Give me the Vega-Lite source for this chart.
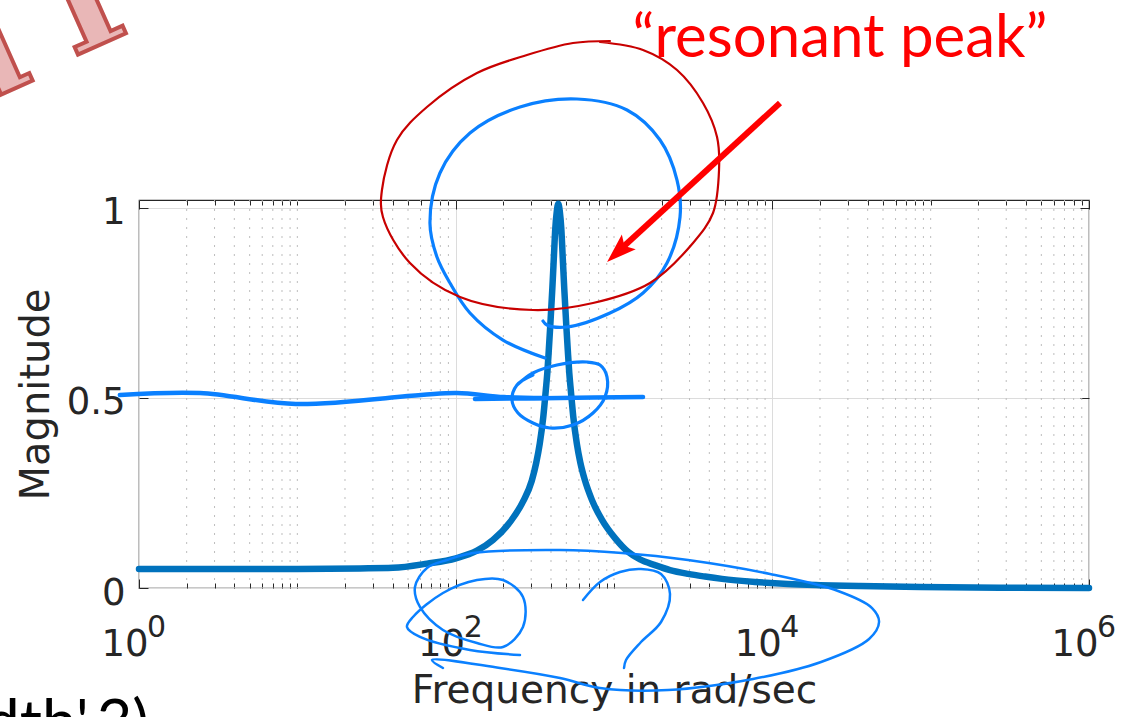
{
  "$schema": "https://vega.github.io/schema/vega-lite/v6.json",
  "width": 950,
  "height": 388,
  "autosize": {"type": "none"},
  "padding": {"left": 139, "top": 200, "right": 44, "bottom": 129},
  "background": "white",
  "config": {"view": {"stroke": "#262626", "strokeWidth": 1.2}},
  "datasets": {
    "response": [
      {"freq": 1, "mag": 0.05}, {"freq": 3, "mag": 0.05}, {"freq": 10, "mag": 0.0502},
      {"freq": 24.86, "mag": 0.0515}, {"freq": 40.17, "mag": 0.053}, {"freq": 65.87, "mag": 0.064},
      {"freq": 100.4, "mag": 0.078}, {"freq": 136.3, "mag": 0.098}, {"freq": 172.0, "mag": 0.126},
      {"freq": 220.3, "mag": 0.173}, {"freq": 266.1, "mag": 0.227}, {"freq": 302.5, "mag": 0.282},
      {"freq": 323.0, "mag": 0.33}, {"freq": 339.8, "mag": 0.38}, {"freq": 357.6, "mag": 0.45},
      {"freq": 370.9, "mag": 0.52}, {"freq": 379.1, "mag": 0.565}, {"freq": 387.4, "mag": 0.625},
      {"freq": 395.9, "mag": 0.69}, {"freq": 407.6, "mag": 0.785}, {"freq": 416.6, "mag": 0.865},
      {"freq": 425.8, "mag": 0.945}, {"freq": 435.2, "mag": 0.99}, {"freq": 444.8, "mag": 1.01},
      {"freq": 454.6, "mag": 0.99}, {"freq": 464.6, "mag": 0.945}, {"freq": 474.9, "mag": 0.865},
      {"freq": 485.4, "mag": 0.785}, {"freq": 499.7, "mag": 0.69}, {"freq": 510.7, "mag": 0.625},
      {"freq": 521.9, "mag": 0.565}, {"freq": 533.5, "mag": 0.52}, {"freq": 553.2, "mag": 0.45},
      {"freq": 582.2, "mag": 0.38}, {"freq": 612.6, "mag": 0.33}, {"freq": 654.1, "mag": 0.284},
      {"freq": 726.1, "mag": 0.231}, {"freq": 840.0, "mag": 0.179}, {"freq": 1015, "mag": 0.131},
      {"freq": 1226, "mag": 0.095}, {"freq": 1460, "mag": 0.075}, {"freq": 1816, "mag": 0.06},
      {"freq": 2258, "mag": 0.047}, {"freq": 2934, "mag": 0.037}, {"freq": 3757, "mag": 0.03},
      {"freq": 4812, "mag": 0.024}, {"freq": 7775, "mag": 0.016}, {"freq": 12560, "mag": 0.0105},
      {"freq": 20010, "mag": 0.0075}, {"freq": 35810, "mag": 0.005}, {"freq": 85700, "mag": 0.0025},
      {"freq": 274400, "mag": 0.0009}, {"freq": 1000000, "mag": 0.0003}
    ],
    "minorTicks": [
      {"freq": 2}, {"freq": 3}, {"freq": 4}, {"freq": 5}, {"freq": 6}, {"freq": 7}, {"freq": 8}, {"freq": 9},
      {"freq": 10}, {"freq": 20}, {"freq": 30}, {"freq": 40}, {"freq": 50}, {"freq": 60}, {"freq": 70}, {"freq": 80}, {"freq": 90},
      {"freq": 200}, {"freq": 300}, {"freq": 400}, {"freq": 500}, {"freq": 600}, {"freq": 700}, {"freq": 800}, {"freq": 900},
      {"freq": 1000}, {"freq": 2000}, {"freq": 3000}, {"freq": 4000}, {"freq": 5000}, {"freq": 6000}, {"freq": 7000}, {"freq": 8000}, {"freq": 9000},
      {"freq": 20000}, {"freq": 30000}, {"freq": 40000}, {"freq": 50000}, {"freq": 60000}, {"freq": 70000}, {"freq": 80000}, {"freq": 90000},
      {"freq": 100000}, {"freq": 200000}, {"freq": 300000}, {"freq": 400000}, {"freq": 500000}, {"freq": 600000}, {"freq": 700000}, {"freq": 800000}, {"freq": 900000}
    ],
    "decades": [
      {"freq": 1, "power": "0"}, {"freq": 100, "power": "2"}, {"freq": 10000, "power": "4"}, {"freq": 1000000, "power": "6"}
    ],
    "blueInk": [
      {"stroke": "peak-loop", "seq": 1, "freq": 366.6, "mag": 0.6046},
      {"stroke": "peak-loop", "seq": 2, "freq": 199.0, "mag": 0.6519},
      {"stroke": "peak-loop", "seq": 3, "freq": 123.1, "mag": 0.7229},
      {"stroke": "peak-loop", "seq": 4, "freq": 92.04, "mag": 0.8018},
      {"stroke": "peak-loop", "seq": 5, "freq": 76.18, "mag": 0.8701},
      {"stroke": "peak-loop", "seq": 6, "freq": 68.8, "mag": 0.9595},
      {"stroke": "peak-loop", "seq": 7, "freq": 79.57, "mag": 1.091},
      {"stroke": "peak-loop", "seq": 8, "freq": 123.1, "mag": 1.1961},
      {"stroke": "peak-loop", "seq": 9, "freq": 254.8, "mag": 1.2645},
      {"stroke": "peak-loop", "seq": 10, "freq": 583.8, "mag": 1.2855},
      {"stroke": "peak-loop", "seq": 11, "freq": 1208, "mag": 1.2566},
      {"stroke": "peak-loop", "seq": 12, "freq": 1953, "mag": 1.1777},
      {"stroke": "peak-loop", "seq": 13, "freq": 2500, "mag": 1.0725},
      {"stroke": "peak-loop", "seq": 14, "freq": 2612, "mag": 0.9753},
      {"stroke": "peak-loop", "seq": 15, "freq": 2161, "mag": 0.8544},
      {"stroke": "peak-loop", "seq": 16, "freq": 1525, "mag": 0.7755},
      {"stroke": "peak-loop", "seq": 17, "freq": 943.4, "mag": 0.7229},
      {"stroke": "peak-loop", "seq": 18, "freq": 504.8, "mag": 0.6861},
      {"stroke": "peak-loop", "seq": 19, "freq": 377.1, "mag": 0.6914},
      {"stroke": "peak-loop", "seq": 20, "freq": 356.0, "mag": 0.7019},
      {"stroke": "half-ring", "seq": 1, "freq": 243.9, "mag": 0.5336},
      {"stroke": "half-ring", "seq": 2, "freq": 307.8, "mag": 0.5652},
      {"stroke": "half-ring", "seq": 3, "freq": 436.4, "mag": 0.5862},
      {"stroke": "half-ring", "seq": 4, "freq": 675.1, "mag": 0.5941},
      {"stroke": "half-ring", "seq": 5, "freq": 815.9, "mag": 0.5862},
      {"stroke": "half-ring", "seq": 6, "freq": 903.3, "mag": 0.5547},
      {"stroke": "half-ring", "seq": 7, "freq": 877.3, "mag": 0.5021},
      {"stroke": "half-ring", "seq": 8, "freq": 736.8, "mag": 0.46},
      {"stroke": "half-ring", "seq": 9, "freq": 550.8, "mag": 0.4285},
      {"stroke": "half-ring", "seq": 10, "freq": 394.2, "mag": 0.4206},
      {"stroke": "half-ring", "seq": 11, "freq": 307.8, "mag": 0.4338},
      {"stroke": "half-ring", "seq": 12, "freq": 247.5, "mag": 0.46},
      {"stroke": "half-ring", "seq": 13, "freq": 226.8, "mag": 0.4942},
      {"stroke": "half-ring", "seq": 14, "freq": 243.9, "mag": 0.5336},
      {"stroke": "half-ring", "seq": 15, "freq": 307.8, "mag": 0.5599},
      {"stroke": "half-line", "seq": 1, "freq": 0.7574, "mag": 0.5074},
      {"stroke": "half-line", "seq": 2, "freq": 2.425, "mag": 0.5126},
      {"stroke": "half-line", "seq": 3, "freq": 9.799, "mag": 0.4837},
      {"stroke": "half-line", "seq": 4, "freq": 60.37, "mag": 0.5074},
      {"stroke": "half-line", "seq": 5, "freq": 101.9, "mag": 0.5126},
      {"stroke": "half-line", "seq": 6, "freq": 201.9, "mag": 0.5021},
      {"stroke": "half-line", "seq": 7, "freq": 366.6, "mag": 0.4995},
      {"stroke": "half-line-2", "seq": 1, "freq": 132.4, "mag": 0.4968},
      {"stroke": "half-line-2", "seq": 2, "freq": 456.0, "mag": 0.4995},
      {"stroke": "half-line-2", "seq": 3, "freq": 1525, "mag": 0.5021},
      {"stroke": "base-loop", "seq": 1, "freq": 83.13, "mag": -0.2103},
      {"stroke": "base-loop", "seq": 2, "freq": 70.84, "mag": -0.1893},
      {"stroke": "base-loop", "seq": 3, "freq": 190.5, "mag": -0.2103},
      {"stroke": "base-loop", "seq": 4, "freq": 456.0, "mag": -0.2366},
      {"stroke": "base-loop", "seq": 5, "freq": 815.9, "mag": -0.2629},
      {"stroke": "base-loop", "seq": 6, "freq": 2193, "mag": -0.2681},
      {"stroke": "base-loop", "seq": 7, "freq": 7552, "mag": -0.2392},
      {"stroke": "base-loop", "seq": 8, "freq": 20310, "mag": -0.1945},
      {"stroke": "base-loop", "seq": 9, "freq": 40830, "mag": -0.1341},
      {"stroke": "base-loop", "seq": 10, "freq": 47210, "mag": -0.0894},
      {"stroke": "base-loop", "seq": 11, "freq": 42640, "mag": -0.0526},
      {"stroke": "base-loop", "seq": 12, "freq": 26010, "mag": -0.0079},
      {"stroke": "base-loop", "seq": 13, "freq": 9672, "mag": 0.0368},
      {"stroke": "base-loop", "seq": 14, "freq": 2934, "mag": 0.0736},
      {"stroke": "base-loop", "seq": 15, "freq": 1123, "mag": 0.092},
      {"stroke": "base-loop", "seq": 16, "freq": 456.0, "mag": 0.0999},
      {"stroke": "base-loop", "seq": 17, "freq": 128.6, "mag": 0.092},
      {"stroke": "base-loop", "seq": 18, "freq": 88.11, "mag": 0.0736},
      {"stroke": "base-loop", "seq": 19, "freq": 65.87, "mag": 0.0526},
      {"stroke": "base-loop", "seq": 20, "freq": 55.33, "mag": 0.0026},
      {"stroke": "base-loop", "seq": 21, "freq": 59.5, "mag": -0.0499},
      {"stroke": "base-loop", "seq": 22, "freq": 83.13, "mag": -0.1104},
      {"stroke": "base-loop", "seq": 23, "freq": 136.3, "mag": -0.1446},
      {"stroke": "base-loop", "seq": 24, "freq": 199.0, "mag": -0.1551},
      {"stroke": "base-loop", "seq": 25, "freq": 266.1, "mag": -0.1025},
      {"stroke": "base-loop", "seq": 26, "freq": 266.1, "mag": -0.0237},
      {"stroke": "base-loop", "seq": 27, "freq": 199.0, "mag": 0.021},
      {"stroke": "base-loop", "seq": 28, "freq": 136.3, "mag": 0.021},
      {"stroke": "base-loop", "seq": 29, "freq": 83.13, "mag": -0.0131},
      {"stroke": "base-loop", "seq": 30, "freq": 53.74, "mag": -0.0762},
      {"stroke": "base-loop", "seq": 31, "freq": 49.25, "mag": -0.1025},
      {"stroke": "base-loop", "seq": 32, "freq": 59.5, "mag": -0.1288},
      {"stroke": "base-loop", "seq": 33, "freq": 123.1, "mag": -0.163},
      {"stroke": "base-loop", "seq": 34, "freq": 254.8, "mag": -0.1761},
      {"stroke": "hook", "seq": 1, "freq": 637.1, "mag": -0.0315},
      {"stroke": "hook", "seq": 2, "freq": 815.9, "mag": 0.0158},
      {"stroke": "hook", "seq": 3, "freq": 1091, "mag": 0.0421},
      {"stroke": "hook", "seq": 4, "freq": 1481, "mag": 0.0499},
      {"stroke": "hook", "seq": 5, "freq": 1982, "mag": 0.0368},
      {"stroke": "hook", "seq": 6, "freq": 2258, "mag": -0.0158},
      {"stroke": "hook", "seq": 7, "freq": 1982, "mag": -0.0894},
      {"stroke": "hook", "seq": 8, "freq": 1481, "mag": -0.142},
      {"stroke": "hook", "seq": 9, "freq": 1191, "mag": -0.1893},
      {"stroke": "hook", "seq": 10, "freq": 1157, "mag": -0.2103}
    ],
    "redRing": [
      {"seq": 1, "freq": 815.9, "mag": 1.4353},
      {"seq": 2, "freq": 1525, "mag": 1.4143},
      {"seq": 3, "freq": 2500, "mag": 1.3617},
      {"seq": 4, "freq": 3650, "mag": 1.275},
      {"seq": 5, "freq": 4475, "mag": 1.1856},
      {"seq": 6, "freq": 4606, "mag": 1.0988},
      {"seq": 7, "freq": 4220, "mag": 0.9858},
      {"seq": 8, "freq": 3156, "mag": 0.9069},
      {"seq": 9, "freq": 1688, "mag": 0.8018},
      {"seq": 10, "freq": 736.8, "mag": 0.7492},
      {"seq": 11, "freq": 307.8, "mag": 0.7308},
      {"seq": 12, "freq": 106.5, "mag": 0.765},
      {"seq": 13, "freq": 51.44, "mag": 0.8544},
      {"seq": 14, "freq": 34.73, "mag": 0.9753},
      {"seq": 15, "freq": 34.23, "mag": 1.0463},
      {"seq": 16, "freq": 42.58, "mag": 1.1777},
      {"seq": 17, "freq": 65.87, "mag": 1.2645},
      {"seq": 18, "freq": 136.3, "mag": 1.3538},
      {"seq": 19, "freq": 282.0, "mag": 1.4012},
      {"seq": 20, "freq": 550.8, "mag": 1.4327},
      {"seq": 21, "freq": 943.4, "mag": 1.438}
    ],
    "arrowShaft": [
      {"seq": 1, "freq": 11180, "mag": 1.275},
      {"seq": 2, "freq": 1123, "mag": 0.8938}
    ],
    "arrowHead": [{"freq": 1083, "mag": 0.8872}],
    "callout": [{"freq": 26770, "mag": 1.3959, "label": "“resonant peak”"}],
    "stamp": [
      {"freq": 0.5828, "mag": 1.4301, "glyph": "I"},
      {"freq": 0.116, "mag": 1.2855, "glyph": "d"}
    ],
    "codeLine": [{"freq": 1.155, "mag": -0.4101, "label": "Width',3)"}]
  },
  "layer": [
    {
      "data": {"name": "minorTicks"},
      "mark": {"type": "rule", "color": "#bdbdbd", "strokeWidth": 1, "strokeDash": [2, 7]},
      "encoding": {
        "x": {
          "field": "freq", "type": "quantitative",
          "scale": {"type": "log", "domain": [1, 1000000]},
          "axis": {
            "orient": "bottom",
            "values": [2,3,4,5,6,7,8,9,10,20,30,40,50,60,70,80,90,200,300,400,500,600,700,800,900,1000,2000,3000,4000,5000,6000,7000,8000,9000,20000,30000,40000,50000,60000,70000,80000,90000,100000,200000,300000,400000,500000,600000,700000,800000,900000],
            "labels": false, "ticks": true, "tickSize": -5, "tickColor": "#262626", "tickWidth": 1,
            "domain": false, "grid": false, "title": null
          }
        }
      }
    },
    {
      "data": {"name": "response"},
      "mark": {"type": "line", "color": "#0072BD", "strokeWidth": 6.5, "interpolate": "monotone", "strokeCap": "round", "strokeJoin": "round"},
      "encoding": {
        "x": {
          "field": "freq", "type": "quantitative",
          "scale": {"type": "log", "domain": [1, 1000000]},
          "axis": {
            "orient": "bottom", "values": [1, 100, 10000, 1000000],
            "labelExpr": "'10'", "labelFont": "DejaVu Sans", "labelFontSize": 37, "labelColor": "#262626",
            "labelAlign": "right", "labelBaseline": "alphabetic", "labelOffset": 9, "labelPadding": 76,
            "labelFlush": false, "labelOverlap": false,
            "tickSize": -9, "tickColor": "#262626", "tickWidth": 1, "domain": false,
            "grid": true, "gridColor": "#dcdcdc", "gridWidth": 1,
            "title": "Frequency in rad/sec", "titleFont": "DejaVu Sans", "titleFontSize": 39,
            "titleFontWeight": "normal", "titleColor": "#262626", "titleY": 114, "titleBaseline": "alphabetic"
          }
        },
        "y": {
          "field": "mag", "type": "quantitative",
          "scale": {"domain": [0, 1.02]},
          "axis": {
            "orient": "left", "values": [0, 0.5, 1], "format": "~g",
            "labelFont": "DejaVu Sans", "labelFontSize": 37, "labelColor": "#262626",
            "labelAlign": "right", "labelBaseline": "alphabetic", "labelOffset": 16, "labelPadding": 23,
            "labelFlush": false, "labelOverlap": false,
            "tickSize": -9, "tickColor": "#262626", "tickWidth": 1, "domain": false,
            "grid": true, "gridColor": "#dcdcdc", "gridWidth": 1,
            "title": "Magnitude", "titleFont": "DejaVu Sans", "titleFontSize": 40, "titleFontWeight": "normal",
            "titleColor": "#262626", "titleX": -91, "titleY": 194, "titleAngle": -90,
            "titleBaseline": "alphabetic", "titleAlign": "center"
          }
        }
      }
    },
    {
      "data": {"name": "decades"},
      "mark": {"type": "text", "font": "DejaVu Sans", "fontSize": 30, "color": "#262626", "align": "left", "baseline": "alphabetic", "dx": 8, "dy": 49},
      "encoding": {
        "x": {"field": "freq", "type": "quantitative", "scale": {"type": "log", "domain": [1, 1000000]}, "axis": null},
        "y": {"datum": 0, "type": "quantitative", "scale": {"domain": [0, 1.02]}, "axis": null},
        "text": {"field": "power"}
      }
    },
    {
      "data": {"name": "blueInk"},
      "transform": [{"filter": {"field": "stroke", "oneOf": ["base-loop", "hook"]}}],
      "mark": {"type": "line", "color": "#0a80ff", "strokeWidth": 2.5, "interpolate": "catmull-rom", "strokeCap": "round", "strokeJoin": "round", "clip": false},
      "encoding": {
        "x": {
          "field": "freq", "type": "quantitative", "scale": {"type": "log", "domain": [1, 1000000]},
          "axis": {
            "orient": "top",
            "values": [2,3,4,5,6,7,8,9,10,20,30,40,50,60,70,80,90,200,300,400,500,600,700,800,900,1000,2000,3000,4000,5000,6000,7000,8000,9000,20000,30000,40000,50000,60000,70000,80000,90000,100000,200000,300000,400000,500000,600000,700000,800000,900000],
            "labels": false, "tickSize": -5, "tickColor": "#262626", "tickWidth": 1, "domain": false, "grid": false, "title": null
          }
        },
        "y": {
          "field": "mag", "type": "quantitative", "scale": {"domain": [0, 1.02]},
          "axis": {"orient": "right", "values": [0, 0.5, 1], "labels": false, "tickSize": -9, "tickColor": "#262626", "tickWidth": 1, "domain": false, "grid": false, "title": null}
        },
        "detail": {"field": "stroke"},
        "order": {"field": "seq", "type": "quantitative"}
      }
    },
    {
      "data": {"name": "blueInk"},
      "transform": [{"filter": {"field": "stroke", "oneOf": ["peak-loop", "half-ring"]}}],
      "mark": {"type": "line", "color": "#0a80ff", "strokeWidth": 3.2, "interpolate": "catmull-rom", "strokeCap": "round", "strokeJoin": "round", "clip": false},
      "encoding": {
        "x": {"field": "freq", "type": "quantitative", "scale": {"type": "log", "domain": [1, 1000000]}, "axis": null},
        "y": {"field": "mag", "type": "quantitative", "scale": {"domain": [0, 1.02]}, "axis": null},
        "detail": {"field": "stroke"},
        "order": {"field": "seq", "type": "quantitative"}
      }
    },
    {
      "data": {"name": "blueInk"},
      "transform": [{"filter": {"field": "stroke", "oneOf": ["half-line", "half-line-2"]}}],
      "mark": {"type": "line", "color": "#0a80ff", "strokeWidth": 4.5, "interpolate": "catmull-rom", "strokeCap": "round", "strokeJoin": "round", "clip": false},
      "encoding": {
        "x": {"field": "freq", "type": "quantitative", "scale": {"type": "log", "domain": [1, 1000000]}, "axis": null},
        "y": {"field": "mag", "type": "quantitative", "scale": {"domain": [0, 1.02]}, "axis": null},
        "detail": {"field": "stroke"},
        "order": {"field": "seq", "type": "quantitative"}
      }
    },
    {
      "data": {"name": "redRing"},
      "mark": {"type": "line", "color": "#c80000", "strokeWidth": 2.2, "interpolate": "catmull-rom", "strokeCap": "round", "strokeJoin": "round", "clip": false},
      "encoding": {
        "x": {
          "field": "freq", "type": "quantitative", "scale": {"type": "log", "domain": [1, 1000000]},
          "axis": {"orient": "top", "values": [1, 100, 10000, 1000000], "labels": false, "tickSize": -9, "tickColor": "#262626", "tickWidth": 1, "domain": false, "grid": false, "title": null}
        },
        "y": {"field": "mag", "type": "quantitative", "scale": {"domain": [0, 1.02]}, "axis": null},
        "order": {"field": "seq", "type": "quantitative"}
      }
    },
    {
      "data": {"name": "arrowShaft"},
      "mark": {"type": "line", "color": "#ff0000", "strokeWidth": 6, "strokeCap": "butt", "clip": false},
      "encoding": {
        "x": {"field": "freq", "type": "quantitative", "scale": {"type": "log", "domain": [1, 1000000]}, "axis": null},
        "y": {"field": "mag", "type": "quantitative", "scale": {"domain": [0, 1.02]}, "axis": null},
        "order": {"field": "seq", "type": "quantitative"}
      }
    },
    {
      "data": {"name": "arrowHead"},
      "mark": {"type": "point", "shape": "M0,-1L0.6,0.75L0,0.4L-0.6,0.75Z", "filled": true, "color": "#ff0000", "opacity": 1, "size": 1150, "angle": 227, "clip": false},
      "encoding": {
        "x": {"field": "freq", "type": "quantitative", "scale": {"type": "log", "domain": [1, 1000000]}, "axis": null},
        "y": {"field": "mag", "type": "quantitative", "scale": {"domain": [0, 1.02]}, "axis": null}
      }
    },
    {
      "data": {"name": "callout"},
      "mark": {"type": "text", "font": "Lato", "fontSize": 60, "color": "#ff0000", "align": "center", "baseline": "alphabetic", "clip": false},
      "encoding": {
        "x": {"field": "freq", "type": "quantitative", "scale": {"type": "log", "domain": [1, 1000000]}, "axis": null},
        "y": {"field": "mag", "type": "quantitative", "scale": {"domain": [0, 1.02]}, "axis": null},
        "text": {"field": "label"}
      }
    },
    {
      "data": {"name": "stamp"},
      "mark": {"type": "text", "font": "DejaVu Serif", "fontWeight": "bold", "fontSize": 140, "fill": "#e9b7b7", "stroke": "#c0504d", "strokeWidth": 4, "align": "center", "baseline": "alphabetic", "angle": -24, "clip": false},
      "encoding": {
        "x": {"field": "freq", "type": "quantitative", "scale": {"type": "log", "domain": [1, 1000000]}, "axis": null},
        "y": {"field": "mag", "type": "quantitative", "scale": {"domain": [0, 1.02]}, "axis": null},
        "text": {"field": "glyph"}
      }
    },
    {
      "data": {"name": "codeLine"},
      "mark": {"type": "text", "font": "Lato", "fontSize": 62, "color": "#000000", "align": "right", "baseline": "alphabetic", "clip": false},
      "encoding": {
        "x": {"field": "freq", "type": "quantitative", "scale": {"type": "log", "domain": [1, 1000000]}, "axis": null},
        "y": {"field": "mag", "type": "quantitative", "scale": {"domain": [0, 1.02]}, "axis": null},
        "text": {"field": "label"}
      }
    }
  ],
  "resolve": {"axis": {"x": "independent", "y": "independent"}}
}
